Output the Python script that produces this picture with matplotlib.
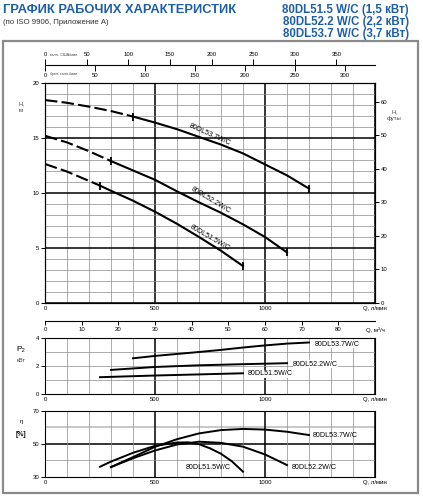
# -*- coding: utf-8 -*-
"""
80DL5 W/C — рабочие характеристики (H, P2, КПД от Q)
"""

import matplotlib
matplotlib.use("Agg")
import matplotlib.pyplot as plt
from matplotlib import ticker as mticker
from matplotlib.patches import Rectangle

plt.rcParams["font.family"] = ["Liberation Sans", "DejaVu Sans"]

W, H = 423, 500
BLUE = "#1d5ea8"

# ----------------- data -----------------
MODELS = ["80DL51.5W/C", "80DL52.2W/C", "80DL53.7W/C"]

# H, m vs Q, l/min
q_h_515 = [0, 100, 200, 250, 300, 400, 500, 600, 700, 800, 900]
h_515   = [12.64, 11.95, 11.1, 10.67, 10.2, 9.3, 8.3, 7.2, 6.0, 4.75, 3.36]
q_h_522 = [0, 100, 200, 300, 400, 500, 600, 700, 800, 900, 1000, 1100]
h_522   = [15.2, 14.6, 13.8, 12.9, 12.05, 11.2, 10.15, 9.15, 8.2, 7.15, 6.0, 4.6]
q_h_537 = [0, 100, 200, 300, 400, 500, 600, 700, 800, 900, 1000, 1100, 1200]
h_537   = [18.45, 18.2, 17.85, 17.45, 16.95, 16.4, 15.8, 15.1, 14.4, 13.6, 12.6, 11.6, 10.4]
q_mark  = [250, 300, 400]   # end of the dashed part

# P2, kW
q_p_515 = [250, 500, 700, 900]
p_515   = [1.2, 1.32, 1.4, 1.48]
q_p_522 = [300, 500, 700, 900, 1100]
p_522   = [1.72, 1.93, 2.05, 2.13, 2.2]
q_p_537 = [400, 500, 600, 700, 800, 900, 1000, 1100, 1200]
p_537   = [2.55, 2.72, 2.86, 3.0, 3.15, 3.32, 3.47, 3.6, 3.68]

# efficiency, %
q_e_515 = [250, 300, 400, 500, 600, 650, 700, 750, 800, 850, 900]
e_515   = [36.2, 39.3, 44.6, 48.8, 50.8, 50.9, 49.8, 47.3, 44.0, 39.4, 33.2]
q_e_522 = [300, 400, 500, 600, 700, 800, 900, 1000, 1100]
e_522   = [36.0, 41.3, 46.0, 49.6, 51.3, 50.6, 48.3, 43.6, 37.2]
q_e_537 = [300, 400, 500, 600, 700, 800, 900, 1000, 1100, 1200]
e_537   = [36.0, 42.0, 48.2, 52.8, 56.3, 58.3, 59.0, 58.6, 57.3, 55.3]

US_GAL, IMP_GAL = 3.785, 4.546
us_ticks  = [0, 50, 100, 150, 200, 250, 300, 350]
imp_ticks = [0, 50, 100, 150, 200, 250, 300]
m3_ticks  = [0, 10, 20, 30, 40, 50, 60, 70, 80, 90]
ft_ticks  = [0, 10, 20, 30, 40, 50, 60]


def fx(px):
    return px / W


def fy(py):
    return 1 - py / H


def box(left, top, right, bottom):
    return [fx(left), fy(bottom), fx(right) - fx(left), fy(top) - fy(bottom)]


def style_axes(ax):
    ax.set_xlim(0, 1500)
    ax.xaxis.set_major_locator(mticker.FixedLocator([0, 500, 1000, 1500]))
    ax.xaxis.set_minor_locator(mticker.MultipleLocator(100))
    ax.set_xticklabels(["0", "500", "1000", "Q, л/мин"])
    ax.tick_params(axis="x", which="both", length=0, labelsize=4.3, pad=2.5)
    ax.tick_params(axis="y", which="major", direction="out", length=3, width=0.7,
                   labelsize=4.3, pad=1)
    ax.tick_params(axis="y", which="minor", length=0)
    ax.grid(True, which="minor", color="#8c8c8c", lw=0.5)
    ax.grid(True, which="major", axis="x", color="black", lw=1.1)
    for s in ax.spines.values():
        s.set_linewidth(0.8)
    ax.set_axisbelow(True)


fig = plt.figure(figsize=(W / 100, H / 100), dpi=100)

# ----------------- titles -----------------
fig.text(fx(3), fy(10), "ГРАФИК РАБОЧИХ ХАРАКТЕРИСТИК", color=BLUE,
         fontsize=9.3, fontweight="bold", va="center", ha="left")
fig.text(fx(3), fy(23), "(по ISO 9906, Приложение А)", color="#333333",
         fontsize=5.6, va="center", ha="left")
for i, t in enumerate(["80DL51.5 W/C (1,5 кВт)", "80DL52.2 W/C (2,2 кВт)",
                       "80DL53.7 W/C (3,7 кВт)"]):
    fig.text(fx(409), fy(10 + 12 * i), t, color=BLUE, fontsize=8.3,
             fontweight="bold", va="center", ha="right")

fig.patches.append(Rectangle((fx(3), fy(493)), fx(418) - fx(3), fy(41) - fy(493),
                             transform=fig.transFigure, fill=False,
                             edgecolor="#8a8a8a", lw=1.6))

# ----------------- gallon scales -----------------
axg = fig.add_axes([fx(45), fy(65), fx(375) - fx(45), 0.0001])
axg.set_xlim(0, 1500)
axg.set_yticks([])
for k in ("left", "right", "bottom"):
    axg.spines[k].set_visible(False)
axg.spines["top"].set_linewidth(0.8)
axg.set_xticks([g * IMP_GAL for g in imp_ticks], [str(g) for g in imp_ticks])
axg.tick_params(axis="x", direction="out", length=4, width=0.7, labelsize=4.3, pad=2)
axu = axg.twiny()
axu.set_xlim(0, 1500)
for s in axu.spines.values():
    s.set_visible(False)
axu.set_xticks([g * US_GAL for g in us_ticks], [str(g) for g in us_ticks])
axu.tick_params(axis="x", direction="out", length=4, width=0.7, labelsize=4.3, pad=2)
fig.text(fx(50), fy(55.5), "галл. США/мин", fontsize=2.8, color="#444444", va="center")
fig.text(fx(50), fy(74.5), "брит. галл./мин", fontsize=2.8, color="#444444", va="center")

# ----------------- H(Q) -----------------
ax = fig.add_axes(box(45, 83, 375, 303))
style_axes(ax)
ax.set_ylim(0, 20)
ax.yaxis.set_major_locator(mticker.MultipleLocator(5))
ax.yaxis.set_minor_locator(mticker.MultipleLocator(1))
ax.grid(True, which="major", axis="y", color="black", lw=1.1)

for q, h, qm in zip([q_h_515, q_h_522, q_h_537], [h_515, h_522, h_537], q_mark):
    i = q.index(qm)
    ax.plot(q[:i + 1], h[:i + 1], color="black", lw=1.5, dashes=(6, 2))
    ax.plot(q[i:], h[i:], color="black", lw=1.5)
    ax.plot([q[i], q[-1]], [h[i], h[-1]], ls="none", marker="|", ms=6,
            mew=1.3, color="black")

for name, x, y, rot in [("80DL53.7W/C", 750, 15.3, -24),
                        ("80DL52.2W/C", 755, 9.3, -31),
                        ("80DL51.5W/C", 750, 5.9, -30)]:
    ax.text(x, y, name, fontsize=5.1, rotation=rot, ha="center", va="center",
            rotation_mode="anchor")

axr = ax.twinx()
axr.set_ylim(0, 20 * 3.2808)
axr.set_yticks(ft_ticks)
axr.tick_params(axis="y", direction="out", length=3, width=0.7, labelsize=4.3, pad=1)
for s in axr.spines.values():
    s.set_linewidth(0.8)

fig.text(fx(21), fy(107), "H,\nм", fontsize=4.3, ha="center", va="center",
         color="#444444", linespacing=1.4)
fig.text(fx(394), fy(115), "H,\nфуты", fontsize=4.3, ha="center", va="center",
         color="#444444", linespacing=1.4)

# ----------------- m3/h scale -----------------
axm = fig.add_axes([fx(45), fy(321), fx(375) - fx(45), 0.0001])
axm.set_xlim(0, 1500)
axm.set_yticks([])
for k in ("left", "right", "top"):
    axm.spines[k].set_visible(False)
axm.spines["bottom"].set_linewidth(0.8)
axm.set_xticks([m * 1000 / 60 for m in m3_ticks],
               [str(m) for m in m3_ticks[:-1]] + ["Q, м³/ч"])
axm.tick_params(axis="x", direction="out", length=3, width=0.7, labelsize=4.3, pad=1.5)
axm.get_xticklines()[-2].set_visible(False)

# ----------------- P2(Q) -----------------
axp = fig.add_axes(box(45, 338, 375, 394))
style_axes(axp)
axp.set_ylim(0, 4)
axp.yaxis.set_major_locator(mticker.MultipleLocator(2))
axp.yaxis.set_minor_locator(mticker.MultipleLocator(1))
axp.grid(True, which="major", axis="y", color="#8c8c8c", lw=0.5)
for q, p in zip([q_p_515, q_p_522, q_p_537], [p_515, p_522, p_537]):
    axp.plot(q, p, color="black", lw=1.4)
for name, x, y in [("80DL53.7W/C", 1227, 3.57), ("80DL52.2W/C", 1127, 2.14),
                   ("80DL51.5W/C", 923, 1.43)]:
    axp.text(x, y, name, fontsize=5.1, ha="left", va="center",
             bbox=dict(facecolor="white", edgecolor="none", pad=0.3))
fig.text(fx(21), fy(350), "P\u2082", fontsize=6, ha="center", va="center")
fig.text(fx(21), fy(361), "кВт", fontsize=4.2, ha="center", va="center",
         color="#444444")

# ----------------- efficiency(Q) -----------------
axe = fig.add_axes(box(45, 410.7, 375, 477))
style_axes(axe)
axe.set_ylim(30, 70)
axe.yaxis.set_major_locator(mticker.FixedLocator([30, 50, 70]))
axe.yaxis.set_minor_locator(mticker.FixedLocator([40]))
axe.axhline(60, color="#c4c4c4", lw=1.3, zorder=0.5)
axe.axhline(50, color="black", lw=1.1, zorder=0.5)
for q, e in zip([q_e_515, q_e_522, q_e_537], [e_515, e_522, e_537]):
    axe.plot(q, e, color="black", lw=1.4)
for name, x, y in [("80DL53.7W/C", 1218, 54.9), ("80DL52.2W/C", 1123, 35.6),
                   ("80DL51.5W/C", 641, 35.6)]:
    axe.text(x, y, name, fontsize=5.1, ha="left", va="center")
fig.text(fx(21), fy(421), "η", fontsize=4.5, ha="center", va="center")
fig.text(fx(21), fy(434), "[%]", fontsize=5, ha="center", va="center",
         fontweight="bold")

fig.savefig("out.png", dpi=100)
